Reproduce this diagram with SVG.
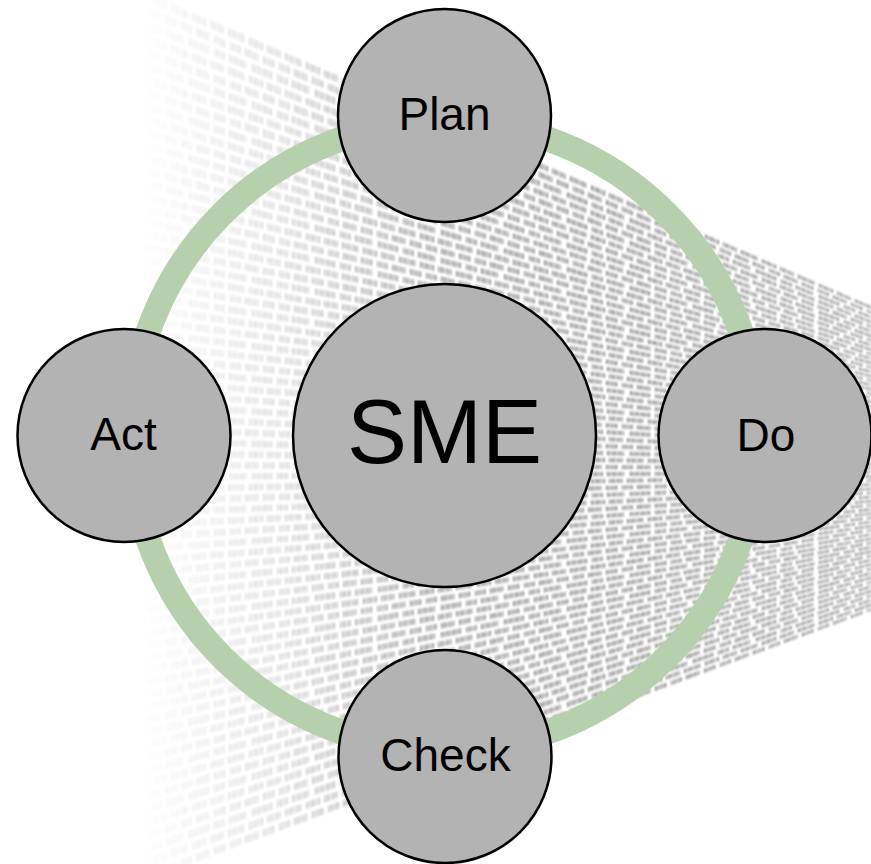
<svg xmlns="http://www.w3.org/2000/svg" xmlns:xlink="http://www.w3.org/1999/xlink" width="871" height="864" viewBox="0 0 871 864">
  <style>
    .node circle { fill: #b3b3b3; stroke: #000; stroke-width: 2.5; }
    .node text { font-family: "Liberation Sans", Arial, sans-serif; fill: #000; text-anchor: middle; }
    .label { font-size: 46px; }
    .hub { font-size: 90px; }
    .ring { fill: none; stroke: #b6cfac; stroke-width: 25; }
  </style>
  <defs>
    <!-- one perspective text row: a thin wedge that tapers toward the vanishing point -->
    <polygon id="row" points="40,466 40,474 1250,470"/>

    <!-- glyph-like vertical strokes used to break the rows into "characters" -->
    <pattern id="pA" patternUnits="userSpaceOnUse" width="57" height="20">
      <g fill="#fff">
        <rect x="0" width="2" height="20"/><rect x="3" width="1.4" height="20"/><rect x="5.5" width="2.2" height="20"/>
        <rect x="9" width="1.2" height="20"/><rect x="11.5" width="2" height="20"/><rect x="14.5" width="1.6" height="20"/>
        <rect x="21" width="2" height="20"/><rect x="24" width="1.3" height="20"/><rect x="26.5" width="2.4" height="20"/>
        <rect x="30" width="1.5" height="20"/><rect x="33" width="2" height="20"/>
        <rect x="39" width="1.6" height="20"/><rect x="41.8" width="2.2" height="20"/><rect x="45.2" width="1.3" height="20"/>
        <rect x="47.8" width="2" height="20"/><rect x="51" width="1.5" height="20"/>
      </g>
    </pattern>
    <pattern id="pB" patternUnits="userSpaceOnUse" width="49" height="20">
      <g fill="#fff">
        <rect x="0" width="1.8" height="20"/><rect x="2.8" width="2.2" height="20"/><rect x="6" width="1.4" height="20"/>
        <rect x="8.6" width="2" height="20"/><rect x="11.8" width="1.5" height="20"/>
        <rect x="18" width="2.2" height="20"/><rect x="21.4" width="1.5" height="20"/><rect x="24" width="1.8" height="20"/>
        <rect x="27" width="2.2" height="20"/>
        <rect x="34" width="1.5" height="20"/><rect x="36.7" width="2" height="20"/><rect x="40" width="1.4" height="20"/>
        <rect x="42.6" width="2.1" height="20"/>
      </g>
    </pattern>
    <pattern id="pC" patternUnits="userSpaceOnUse" width="63" height="20">
      <g fill="#fff">
        <rect x="0" width="2.2" height="20"/><rect x="3.4" width="1.5" height="20"/><rect x="6" width="2" height="20"/>
        <rect x="9.2" width="1.4" height="20"/><rect x="11.8" width="2.3" height="20"/><rect x="15.3" width="1.6" height="20"/>
        <rect x="18" width="2" height="20"/>
        <rect x="25" width="1.6" height="20"/><rect x="27.8" width="2.2" height="20"/><rect x="31.2" width="1.3" height="20"/>
        <rect x="33.7" width="2" height="20"/>
        <rect x="40" width="2.1" height="20"/><rect x="43.3" width="1.5" height="20"/><rect x="46" width="2.2" height="20"/>
        <rect x="49.4" width="1.4" height="20"/><rect x="52" width="2" height="20"/><rect x="55.2" width="1.5" height="20"/>
      </g>
    </pattern>
    <mask id="mA" maskUnits="userSpaceOnUse" x="0" y="0" width="871" height="864"><rect width="871" height="864" fill="url(#pA)"/></mask>
    <mask id="mB" maskUnits="userSpaceOnUse" x="0" y="0" width="871" height="864"><rect width="871" height="864" fill="url(#pB)"/></mask>
    <mask id="mC" maskUnits="userSpaceOnUse" x="0" y="0" width="871" height="864"><rect width="871" height="864" fill="url(#pC)"/></mask>

    <!-- text wall fades out toward the left -->
    <linearGradient id="fadeGrad" gradientUnits="userSpaceOnUse" x1="140" y1="0" x2="620" y2="0">
      <stop offset="0" stop-color="#000"/>
      <stop offset="0.3" stop-color="#555"/>
      <stop offset="0.6" stop-color="#ddd"/>
      <stop offset="1" stop-color="#fff"/>
    </linearGradient>
    <mask id="fade" maskUnits="userSpaceOnUse" x="0" y="0" width="871" height="864"><rect width="871" height="864" fill="url(#fadeGrad)"/></mask>
    <filter id="soft" x="-5%" y="-5%" width="110%" height="110%"><feGaussianBlur stdDeviation="0.8"/></filter>
  </defs>

  <rect width="871" height="864" fill="#fff"/>

  <!-- background: receding wall of text rows -->
  <g id="text-wall" filter="url(#soft)" opacity="0.82">
    <g mask="url(#fade)" fill="#6c6c6c">
      <g mask="url(#mA)">
        <use xlink:href="#row" transform="rotate(23.2 1250 470)"/>
        <use xlink:href="#row" transform="rotate(21.34 1250 470)"/>
        <use xlink:href="#row" transform="rotate(19.48 1250 470)"/>
        <use xlink:href="#row" transform="rotate(17.62 1250 470)"/>
        <use xlink:href="#row" transform="rotate(15.76 1250 470)"/>
        <use xlink:href="#row" transform="rotate(13.9 1250 470)"/>
        <use xlink:href="#row" transform="rotate(12.04 1250 470)"/>
        <use xlink:href="#row" transform="rotate(10.18 1250 470)"/>
        <use xlink:href="#row" transform="rotate(8.32 1250 470)"/>
        <use xlink:href="#row" transform="rotate(6.46 1250 470)"/>
        <use xlink:href="#row" transform="rotate(4.6 1250 470)"/>
        <use xlink:href="#row" transform="rotate(2.74 1250 470)"/>
        <use xlink:href="#row" transform="rotate(0.88 1250 470)"/>
        <use xlink:href="#row" transform="rotate(-0.98 1250 470)"/>
        <use xlink:href="#row" transform="rotate(-2.84 1250 470)"/>
        <use xlink:href="#row" transform="rotate(-4.7 1250 470)"/>
        <use xlink:href="#row" transform="rotate(-6.56 1250 470)"/>
        <use xlink:href="#row" transform="rotate(-8.42 1250 470)"/>
        <use xlink:href="#row" transform="rotate(-10.28 1250 470)"/>
        <use xlink:href="#row" transform="rotate(-12.14 1250 470)"/>
        <use xlink:href="#row" transform="rotate(-14 1250 470)"/>
        <use xlink:href="#row" transform="rotate(-15.86 1250 470)"/>
        <use xlink:href="#row" transform="rotate(-17.72 1250 470)"/>
        <use xlink:href="#row" transform="rotate(-19.58 1250 470)"/>
      </g>
      <g mask="url(#mB)">
        <use xlink:href="#row" transform="rotate(22.58 1250 470)"/>
        <use xlink:href="#row" transform="rotate(20.72 1250 470)"/>
        <use xlink:href="#row" transform="rotate(18.86 1250 470)"/>
        <use xlink:href="#row" transform="rotate(17 1250 470)"/>
        <use xlink:href="#row" transform="rotate(15.14 1250 470)"/>
        <use xlink:href="#row" transform="rotate(13.28 1250 470)"/>
        <use xlink:href="#row" transform="rotate(11.42 1250 470)"/>
        <use xlink:href="#row" transform="rotate(9.56 1250 470)"/>
        <use xlink:href="#row" transform="rotate(7.7 1250 470)"/>
        <use xlink:href="#row" transform="rotate(5.84 1250 470)"/>
        <use xlink:href="#row" transform="rotate(3.98 1250 470)"/>
        <use xlink:href="#row" transform="rotate(2.12 1250 470)"/>
        <use xlink:href="#row" transform="rotate(0.26 1250 470)"/>
        <use xlink:href="#row" transform="rotate(-1.6 1250 470)"/>
        <use xlink:href="#row" transform="rotate(-3.46 1250 470)"/>
        <use xlink:href="#row" transform="rotate(-5.32 1250 470)"/>
        <use xlink:href="#row" transform="rotate(-7.18 1250 470)"/>
        <use xlink:href="#row" transform="rotate(-9.04 1250 470)"/>
        <use xlink:href="#row" transform="rotate(-10.9 1250 470)"/>
        <use xlink:href="#row" transform="rotate(-12.76 1250 470)"/>
        <use xlink:href="#row" transform="rotate(-14.62 1250 470)"/>
        <use xlink:href="#row" transform="rotate(-16.48 1250 470)"/>
        <use xlink:href="#row" transform="rotate(-18.34 1250 470)"/>
        <use xlink:href="#row" transform="rotate(-20.2 1250 470)"/>
      </g>
      <g mask="url(#mC)">
        <use xlink:href="#row" transform="rotate(21.96 1250 470)"/>
        <use xlink:href="#row" transform="rotate(20.1 1250 470)"/>
        <use xlink:href="#row" transform="rotate(18.24 1250 470)"/>
        <use xlink:href="#row" transform="rotate(16.38 1250 470)"/>
        <use xlink:href="#row" transform="rotate(14.52 1250 470)"/>
        <use xlink:href="#row" transform="rotate(12.66 1250 470)"/>
        <use xlink:href="#row" transform="rotate(10.8 1250 470)"/>
        <use xlink:href="#row" transform="rotate(8.94 1250 470)"/>
        <use xlink:href="#row" transform="rotate(7.08 1250 470)"/>
        <use xlink:href="#row" transform="rotate(5.22 1250 470)"/>
        <use xlink:href="#row" transform="rotate(3.36 1250 470)"/>
        <use xlink:href="#row" transform="rotate(1.5 1250 470)"/>
        <use xlink:href="#row" transform="rotate(-0.36 1250 470)"/>
        <use xlink:href="#row" transform="rotate(-2.22 1250 470)"/>
        <use xlink:href="#row" transform="rotate(-4.08 1250 470)"/>
        <use xlink:href="#row" transform="rotate(-5.94 1250 470)"/>
        <use xlink:href="#row" transform="rotate(-7.8 1250 470)"/>
        <use xlink:href="#row" transform="rotate(-9.66 1250 470)"/>
        <use xlink:href="#row" transform="rotate(-11.52 1250 470)"/>
        <use xlink:href="#row" transform="rotate(-13.38 1250 470)"/>
        <use xlink:href="#row" transform="rotate(-15.24 1250 470)"/>
        <use xlink:href="#row" transform="rotate(-17.1 1250 470)"/>
        <use xlink:href="#row" transform="rotate(-18.96 1250 470)"/>
      </g>
    </g>
  </g>

  <!-- cycle ring linking the four stages -->
  <g id="connectors">
    <circle class="ring" cx="444.5" cy="435.5" r="314"/>
  </g>

  <g id="sme" class="node">
    <circle cx="444.5" cy="435.5" r="151.5"/>
    <text class="hub" x="444.5" y="463">SME</text>
  </g>
  <g id="plan" class="node">
    <circle cx="444.5" cy="115.5" r="106.5"/>
    <text class="label" x="444.5" y="130">Plan</text>
  </g>
  <g id="do" class="node">
    <circle cx="765" cy="435.5" r="106.5"/>
    <text class="label" x="766" y="450.5">Do</text>
  </g>
  <g id="check" class="node">
    <circle cx="445" cy="756.5" r="106.5"/>
    <text class="label" x="445.5" y="771">Check</text>
  </g>
  <g id="act" class="node">
    <circle cx="124" cy="435.5" r="106.5"/>
    <text class="label" x="123.5" y="450">Act</text>
  </g>
</svg>
